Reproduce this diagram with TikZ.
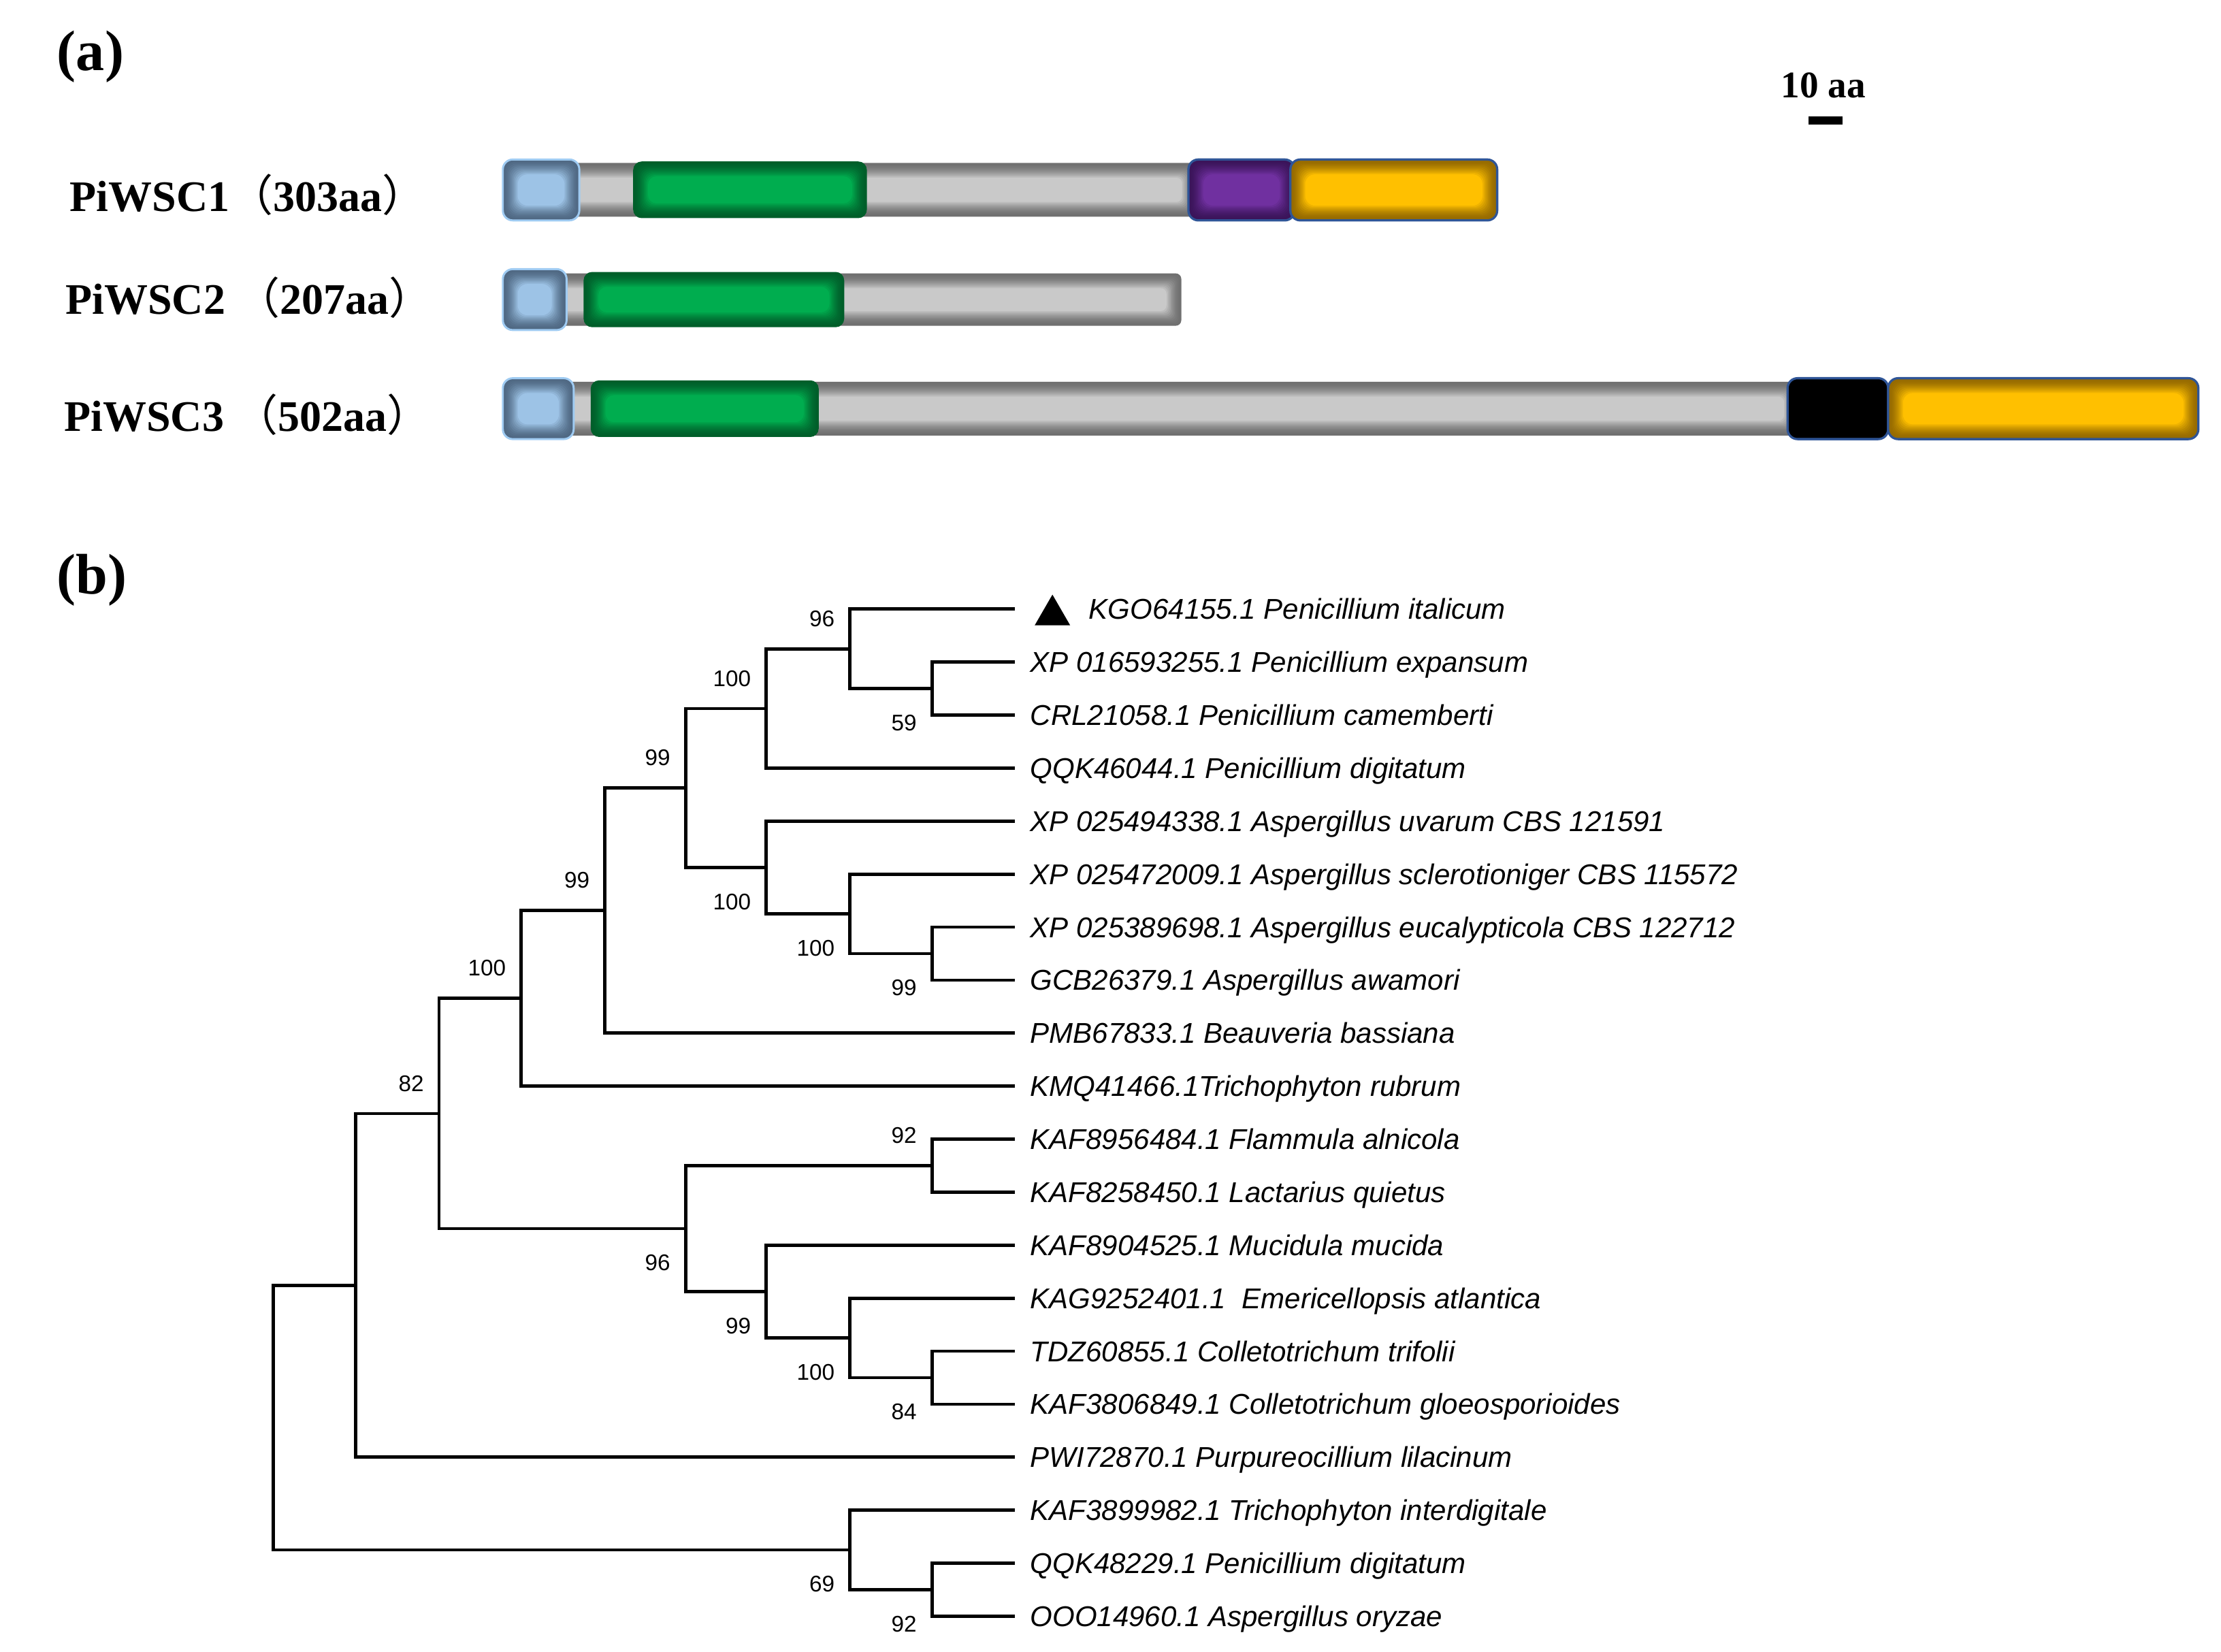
\documentclass[tikz,border=0pt]{standalone}
\usepackage{fontspec}
\setmainfont{Liberation Serif}
\newfontfamily\sansleaf{Liberation Sans}
\newfontfamily\cjk{Noto Sans CJK SC}
\usetikzlibrary{shapes.geometric}

\definecolor{greyedge}{HTML}{707070}
\definecolor{greymid}{HTML}{C9C9C9}
\definecolor{greenedge}{HTML}{005E2A}
\definecolor{greenmid}{HTML}{00AD4F}
\definecolor{blueedge}{HTML}{4F6883}
\definecolor{bluemid}{HTML}{9DC3E6}
\definecolor{blueline}{HTML}{9FCBF2}
\definecolor{purpleedge}{HTML}{3A1459}
\definecolor{purplemid}{HTML}{7030A0}
\definecolor{goldedge}{HTML}{956A00}
\definecolor{goldmid}{HTML}{FFC000}
\definecolor{navyline}{HTML}{2F5597}

% shaded box: corners (#2,#3) and (#4,#5), edge colour #6, middle colour #7
\newcommand\domainbox[7][0.14cm]{%
  \foreach \k in {0,...,11}{
    \pgfmathtruncatemacro\mix{100*(\k/11)^1.7}
    \fill[#7!\mix!#6,rounded corners=#1] ({#2+0.95*\k},{#3+0.95*\k}) rectangle ({#4-0.95*\k},{#5-0.95*\k});
  }}

\begin{document}
\begin{tikzpicture}[x=0.02cm,y=-0.02cm,
  branch/.style={line width=1.3pt},
  leaf/.style={anchor=west,inner xsep=6pt,inner ysep=0pt,text height=8.2pt,text depth=0pt,
    font=\sansleaf\itshape\fontsize{11.5}{13}\selectfont},
  boot/.style={anchor=east,inner sep=0pt,text height=6.5pt,text depth=0pt,
    font=\sansleaf\fontsize{9.1}{10}\selectfont},
  bup/.style={boot,xshift=-0.21cm,yshift=0.43cm},
  bdown/.style={boot,xshift=-0.21cm,yshift=-0.48cm},
  marker/.style={regular polygon,regular polygon sides=3,fill=black,inner sep=0pt,minimum size=0.577cm},
  panel/.style={anchor=base west,inner sep=0pt,font=\bfseries\fontsize{23}{26}\selectfont},
  prot/.style={anchor=base west,inner sep=0pt,font=\bfseries\fontsize{17.5}{20}\selectfont},
  bluerim/.style={draw=blueline,line width=0.8pt,rounded corners=0.14cm},
  navyrim/.style={draw=navyline,line width=0.9pt,rounded corners=0.14cm}]
\useasboundingbox (0,0) rectangle (1568,1166);

% (a) domain structure
\node[panel] (pa) at (40,49.5) {(a)};
\node[prot] (w1) at (49,149) {PiWSC1{\cjk\mdseries （}303aa{\cjk\mdseries ）}};
\node[prot] (w2) at (46,222) {PiWSC2 {\cjk\mdseries （}207aa{\cjk\mdseries ）}};
\node[prot] (w3) at (45,304.6) {PiWSC3 {\cjk\mdseries （}502aa{\cjk\mdseries ）}};

\node[inner sep=0pt,anchor=base west,font=\bfseries\fontsize{15.1}{17}\selectfont] (scale) at (1257,68.9) {10 aa};
\fill (1277,82) rectangle (1301,88);

\domainbox[0.08cm]{360}{115}{845}{153}{greyedge}{greymid}
\domainbox{355}{112.6}{409}{155.6}{blueedge}{bluemid}
\draw[bluerim] (355,112.6) rectangle (409,155.6);
\domainbox[0.12cm]{447}{114}{612}{154}{greenedge}{greenmid}
\domainbox{839}{112.6}{914}{155.6}{purpleedge}{purplemid}
\draw[navyrim] (839,112.6) rectangle (914,155.6);
\domainbox{911}{112.6}{1057}{155.6}{goldedge}{goldmid}
\draw[navyrim] (911,112.6) rectangle (1057,155.6);

\domainbox[0.08cm]{360}{193}{834}{230}{greyedge}{greymid}
\domainbox{355}{190}{400}{233}{blueedge}{bluemid}
\draw[bluerim] (355,190) rectangle (400,233);
\domainbox[0.12cm]{412}{192}{596}{231}{greenedge}{greenmid}

\domainbox[0.08cm]{360}{269.5}{1270}{307.5}{greyedge}{greymid}
\domainbox{355}{267}{405}{310}{blueedge}{bluemid}
\draw[bluerim] (355,267) rectangle (405,310);
\domainbox[0.12cm]{417}{268.5}{578}{308.5}{greenedge}{greenmid}
\filldraw[navyrim,fill=black] (1262,267) rectangle (1333,310);
\domainbox{1333}{267}{1552}{310}{goldedge}{goldmid}
\draw[navyrim] (1333,267) rectangle (1552,310);

% (b) tree
\node[panel] (pb) at (40,419.5) {(b)};

\coordinate (t1) at (716.5,430);
\node[marker] (mk) at (743,434.2) {};
\node[leaf,inner xsep=0pt] (n1) at (768.4,430) {KGO64155.1 Penicillium italicum};
\foreach \name [count=\i from 2] in {
  {XP 016593255.1 Penicillium expansum},
  {CRL21058.1 Penicillium camemberti},
  {QQK46044.1 Penicillium digitatum},
  {XP 025494338.1 Aspergillus uvarum CBS 121591},
  {XP 025472009.1 Aspergillus sclerotioniger CBS 115572},
  {XP 025389698.1 Aspergillus eucalypticola CBS 122712},
  {GCB26379.1 Aspergillus awamori},
  {PMB67833.1 Beauveria bassiana},
  {KMQ41466.1Trichophyton rubrum},
  {KAF8956484.1 Flammula alnicola},
  {KAF8258450.1 Lactarius quietus},
  {KAF8904525.1 Mucidula mucida},
  {KAG9252401.1\ \ Emericellopsis atlantica},
  {TDZ60855.1 Colletotrichum trifolii},
  {KAF3806849.1 Colletotrichum gloeosporioides},
  {PWI72870.1 Purpureocillium lilacinum},
  {KAF3899982.1 Trichophyton interdigitale},
  {QQK48229.1 Penicillium digitatum},
  {OOO14960.1 Aspergillus oryzae}}{
  \coordinate (t\i) at (716.5,{430+37.42*(\i-1)});
  \node[leaf] (n\i) at (t\i) {\name};
}

\coordinate (A) at (600,458.05);
\coordinate (B) at (658,486.1);
\coordinate (C) at (541,500.2);
\coordinate (E) at (658,673.2);
\coordinate (F) at (600,645.15);
\coordinate (G) at (541,612.4);
\coordinate (H) at (484,556.3);
\coordinate (I) at (427,642.85);
\coordinate (J) at (368,704.8);
\coordinate (M) at (658,822.9);
\coordinate (N) at (658,972.6);
\coordinate (O) at (600,944.55);
\coordinate (P) at (541,911.8);
\coordinate (Q) at (484,867.35);
\coordinate (K) at (310,786.1);
\coordinate (R) at (251,907.4);
\coordinate (U) at (658,1122.3);
\coordinate (T) at (600,1094.2);
\coordinate (S) at (193,1000.8);

\draw[branch] (A) |- (t1) (A) |- (B);
\draw[branch] (B) |- (t2) (B) |- (t3);
\draw[branch] (C) |- (A) (C) |- (t4);
\draw[branch] (E) |- (t7) (E) |- (t8);
\draw[branch] (F) |- (t6) (F) |- (E);
\draw[branch] (G) |- (t5) (G) |- (F);
\draw[branch] (H) |- (C) (H) |- (G);
\draw[branch] (I) |- (H) (I) |- (t9);
\draw[branch] (J) |- (I) (J) |- (t10);
\draw[branch] (M) |- (t11) (M) |- (t12);
\draw[branch] (N) |- (t15) (N) |- (t16);
\draw[branch] (O) |- (t14) (O) |- (N);
\draw[branch] (P) |- (t13) (P) |- (O);
\draw[branch] (Q) |- (M) (Q) |- (P);
\draw[branch] (K) |- (J) (K) |- (Q);
\draw[branch] (R) |- (K) (R) |- (t17);
\draw[branch] (U) |- (t19) (U) |- (t20);
\draw[branch] (T) |- (t18) (T) |- (U);
\draw[branch] (S) |- (R) (S) |- (T);

% bootstrap values
\node[bup] (bA) at (A) {96};
\node[bdown] (bB) at (B) {59};
\node[bup] (bC) at (C) {100};
\node[bdown] (bE) at (E) {99};
\node[bdown] (bF) at (F) {100};
\node[bdown] (bG) at (G) {100};
\node[bup] (bH) at (H) {99};
\node[bup] (bI) at (I) {99};
\node[bup] (bJ) at (J) {100};
\node[bup] (bM) at (M) {92};
\node[bdown] (bN) at (N) {84};
\node[bdown] (bO) at (O) {100};
\node[bdown] (bP) at (P) {99};
\node[bdown] (bQ) at (Q) {96};
\node[bup] (bK) at (K) {82};
\node[bdown] (bT) at (T) {69};
\node[bdown] (bU) at (U) {92};
\end{tikzpicture}
\end{document}
